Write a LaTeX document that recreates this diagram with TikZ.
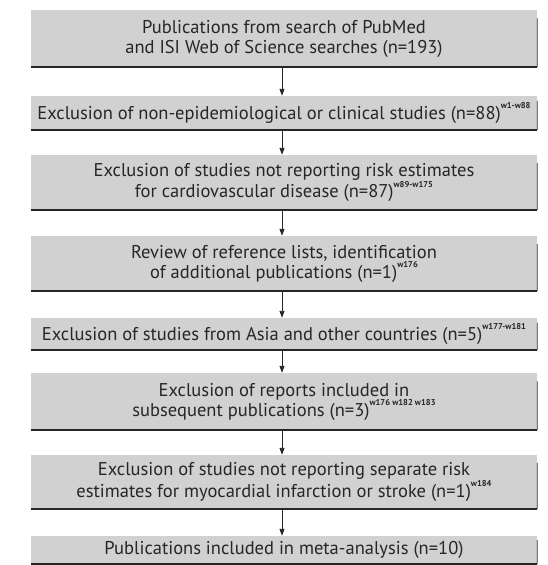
\documentclass[tikz,border=0pt]{standalone}
\usepackage{fontspec}
\setmainfont{PT Sans}
\usetikzlibrary{arrows.meta,calc}
\newcommand\wsup[1]{\raisebox{0.55em}{\fontsize{8.5}{8.5}\selectfont\bfseries #1}}
\begin{document}
\begin{tikzpicture}[x=1pt,y=-1pt,
  box/.style={fill=black!18, draw=none, minimum width=506pt, inner sep=0pt,
    align=center, font=\fontsize{18.5}{20}\selectfont, text=black!85},
  base/.style={line width=1.7pt, black!85},
  side/.style={line width=0.8pt, black!80},
  arr/.style={line width=0.9pt, black!85, -{Triangle[length=7pt,width=5pt]}}]
\useasboundingbox (0,0) rectangle (548,565);
\fill[white] (0,0) rectangle (548,565);
\node[box, minimum height=57pt] (b1) at (284,38.5) {Publications from search of PubMed\\and ISI Web of Science searches (n=193)};
\node[box, minimum height=34pt] (b2) at (284,113) {Exclusion of non-epidemiological or clinical studies (n=88)\wsup{w1-w88}};
\node[box, minimum height=55pt] (b3) at (284,182.5) {Exclusion of studies not reporting risk estimates\\for cardiovascular disease (n=87)\wsup{w89-w175}};
\node[box, minimum height=55pt] (b4) at (284,263.5) {Review of reference lists, identification\\of additional publications (n=1)\wsup{w176}};
\node[box, minimum height=32pt] (b5) at (284,334) {Exclusion of studies from Asia and other countries (n=5)\wsup{w177-w181}};
\node[box, minimum height=57pt] (b6) at (284,401.5) {Exclusion of reports included in\\subsequent publications (n=3)\wsup{w176 w182 w183}};
\node[box, minimum height=54pt] (b7) at (284,482) {Exclusion of studies not reporting separate risk\\estimates for myocardial infarction or stroke (n=1)\wsup{w184}};
\node[box, minimum height=28pt] (b8) at (284,550) {Publications included in meta-analysis (n=10)};
\foreach \b in {b1,b2,b3,b4,b5,b6,b7,b8}{
  \draw[base] (\b.south west) -- (\b.south east);
  \draw[side] (\b.south east) -- ($(\b.north east)!0.15!(\b.south east)$);
}
\foreach \a/\b in {b1/b2,b2/b3,b3/b4,b4/b5,b5/b6,b6/b7,b7/b8}{
  \draw[arr] ([xshift=-2pt]\a.south) -- ([xshift=-2pt]\b.north);
}
\end{tikzpicture}
\end{document}
